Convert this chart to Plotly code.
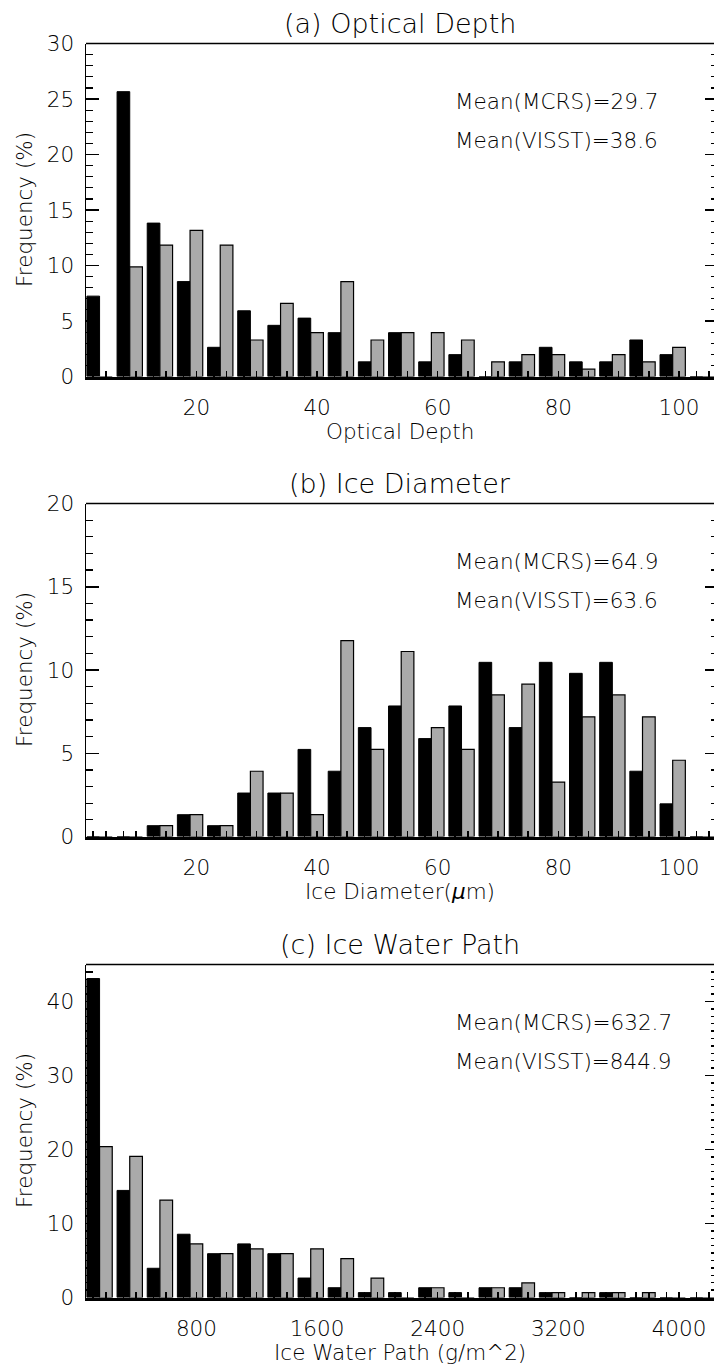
import plotly.graph_objects as go

# ---------------- data ----------------
od_bins = [5, 10, 15, 20, 25, 30, 35, 40, 45, 50, 55, 60, 65, 70, 75, 80, 85, 90, 95, 100, 105]
od_mcrs = [7.24, 25.66, 13.82, 8.55, 2.63, 5.92, 4.61, 5.26, 3.95, 1.32, 3.95,
           1.32, 1.97, 0, 1.32, 2.63, 1.32, 1.32, 3.29, 1.97, 0]
od_visst = [0, 9.87, 11.84, 13.16, 11.84, 3.29, 6.58, 3.95, 8.55, 3.29, 3.95,
            3.95, 3.29, 1.32, 1.97, 1.97, 0.66, 1.97, 1.32, 2.63, 0]
od_ticks = [20, 40, 60, 80, 100]

de_bins = [5, 10, 15, 20, 25, 30, 35, 40, 45, 50, 55, 60, 65, 70, 75, 80, 85, 90, 95, 100, 105]
de_mcrs = [0, 0, 0.65, 1.31, 0.65, 2.61, 2.61, 5.23, 3.92, 6.54, 7.84,
           5.88, 7.84, 10.46, 6.54, 10.46, 9.80, 10.46, 3.92, 1.96, 0]
de_visst = [0, 0, 0.65, 1.31, 0.65, 3.92, 2.61, 1.31, 11.76, 5.23, 11.11,
            6.54, 5.23, 8.50, 9.15, 3.27, 7.19, 8.50, 7.19, 4.58, 0]
de_ticks = [20, 40, 60, 80, 100]

iwp_bins = [200, 400, 600, 800, 1000, 1200, 1400, 1600, 1800, 2000, 2200, 2400, 2600,
            2800, 3000, 3200, 3400, 3600, 3800, 4000, 4200]
iwp_mcrs = [43.1, 14.47, 3.95, 8.55, 5.92, 7.24, 5.92, 2.63, 1.32, 0.66, 0.66,
            1.32, 0.66, 1.32, 1.32, 0.66, 0, 0.66, 0, 0, 0]
iwp_visst = [20.4, 19.08, 13.16, 7.24, 5.92, 6.58, 5.92, 6.58, 5.26, 2.63, 0,
             1.32, 0, 1.32, 1.97, 0.66, 0.66, 0.66, 0.66, 0, 0]
iwp_ticks = [800, 1600, 2400, 3200, 4000]

panel_titles = ["(a) Optical Depth", "(b) Ice Diameter", "(c) Ice Water Path"]
x_titles = ["Optical Depth", "Ice Diameter(<i>μ</i>m)", "Ice Water Path (g/m^2)"]
mean_mcrs = ["29.7", "64.9", "632.7"]
mean_visst = ["38.6", "63.6", "844.9"]
y_max = [30, 20, 45]
y_dtick = [5, 5, 10]

# ---------------- style ----------------
W, H = 714, 1368
ML = 86
FONT = "DejaVu Sans, sans-serif"
WT = 200
GRAY = "#aaaaaa"
plot_top_px = [43.5, 503.5, 964.5]
plot_h_px = 333.0
bin_step = [5, 5, 200]
x_ranges = [[1.7, 105.8], [1.7, 105.8], [68, 4232]]
bw_frac = 0.42  # bar width as fraction of bin step


def fnt(size):
    return dict(size=size, family=FONT, color="black", weight=WT)


panels = [
    (od_bins, od_mcrs, od_visst, od_ticks),
    (de_bins, de_mcrs, de_visst, de_ticks),
    (iwp_bins, iwp_mcrs, iwp_visst, iwp_ticks),
]

fig = go.Figure()
annotations = []
shapes = []

for i, (bins, mcrs, visst, tlabels) in enumerate(panels):
    n = i + 1
    xa = "x" if n == 1 else f"x{n}"
    ya = "y" if n == 1 else f"y{n}"
    yr = f"y{n + 3}"
    w = bw_frac * bin_step[i]

    fig.add_trace(go.Bar(x=bins, y=mcrs, width=w, offset=-1.5 * w,
                         marker=dict(color="black", line=dict(color="black", width=1)),
                         xaxis=xa, yaxis=ya, showlegend=False))
    fig.add_trace(go.Bar(x=bins, y=visst, width=w, offset=-0.5 * w,
                         marker=dict(color=GRAY, line=dict(color="black", width=1.2)),
                         xaxis=xa, yaxis=ya, showlegend=False))
    # dummy trace for right-side tick axis
    fig.add_trace(go.Scatter(x=[None], y=[None], xaxis=xa, yaxis=yr,
                             showlegend=False, hoverinfo="skip"))

    black_c = [b - w for b in bins]
    tickvals = black_c + list(bins)
    ticktext = [""] * len(black_c) + [str(b) if b in tlabels else "" for b in bins]

    top = plot_top_px[i]
    d1 = 1 - (top + plot_h_px) / H
    d0 = 1 - top / H

    xkey = "xaxis" if n == 1 else f"xaxis{n}"
    ykey = "yaxis" if n == 1 else f"yaxis{n}"
    fig.layout[xkey] = dict(
        domain=[0, 1], anchor=ya, range=x_ranges[i], automargin=False,
        showline=True, linewidth=3, linecolor="black", mirror=False,
        ticks="inside", ticklen=6, tickwidth=1.5, tickcolor="black",
        tickmode="array", tickvals=tickvals, ticktext=ticktext,
        tickfont=fnt(21.5), ticklabelstandoff=10,
        showgrid=False, zeroline=False,
    )
    fig.layout[ykey] = dict(
        domain=[d1, d0], anchor=xa, range=[0, y_max[i]], automargin=False,
        tick0=0, dtick=y_dtick[i],
        showline=True, linewidth=1.5, linecolor="black",
        ticks="inside", ticklen=13, tickwidth=1.5, tickcolor="black",
        minor=dict(dtick=1, ticks="inside", ticklen=7, tickwidth=1.2, tickcolor="black"),
        tickfont=fnt(21.5), ticklabelstandoff=6,
        showgrid=False, zeroline=False,
    )
    fig.layout[f"yaxis{n + 3}"] = dict(
        overlaying=ya, side="right", anchor=xa, range=[0, y_max[i]], automargin=False,
        tick0=0, dtick=y_dtick[i], showline=False, showticklabels=False,
        ticks="inside", ticklen=9, tickwidth=1.5, tickcolor="black",
        minor=dict(dtick=1, ticks="inside", ticklen=3, tickwidth=1.2, tickcolor="black"),
        showgrid=False, zeroline=False,
    )

    shapes.append(dict(type="line", xref=f"{xa} domain", yref=f"{ya} domain",
                       x0=0, x1=1, y0=1, y1=1, line=dict(color="black", width=1.5)))

    annotations += [
        dict(text=panel_titles[i], xref=f"{xa} domain", yref=f"{ya} domain",
             x=0.5, y=1, yanchor="middle", yshift=20, showarrow=False, font=fnt(27)),
        dict(text=f"Mean(MCRS)={mean_mcrs[i]}", xref=f"{xa} domain", yref=f"{ya} domain",
             x=0.584, y=1, xanchor="left", yanchor="middle", yshift=-58, showarrow=False,
             font=fnt(21.5)),
        dict(text=f"Mean(VISST)={mean_visst[i]}", xref=f"{xa} domain", yref=f"{ya} domain",
             x=0.584, y=1, xanchor="left", yanchor="middle", yshift=-97, showarrow=False,
             font=fnt(21.5)),
        dict(text=x_titles[i], xref=f"{xa} domain", yref=f"{ya} domain",
             x=0.5, y=0, yanchor="middle", yshift=-55, showarrow=False, font=fnt(21.5)),
        dict(text="Frequency (%)", xref="paper", yref=f"{ya} domain",
             x=0, xshift=24 - ML, y=0.5, textangle=-90,
             xanchor="center", yanchor="middle", showarrow=False, font=fnt(21.5)),
    ]

fig.update_layout(
    width=W, height=H, barmode="overlay",
    margin=dict(l=ML, r=0, t=0, b=0, autoexpand=False),
    paper_bgcolor="white", plot_bgcolor="white",
    font=dict(family=FONT, color="black"),
    annotations=annotations, shapes=shapes,
    hovermode=False,
)

fig.write_html(
    "out.html",
    config={"displayModeBar": False, "staticPlot": True},
    post_script="document.body.style.margin='0';document.body.style.padding='0';"
                "document.body.style.overflow='hidden';",
)
